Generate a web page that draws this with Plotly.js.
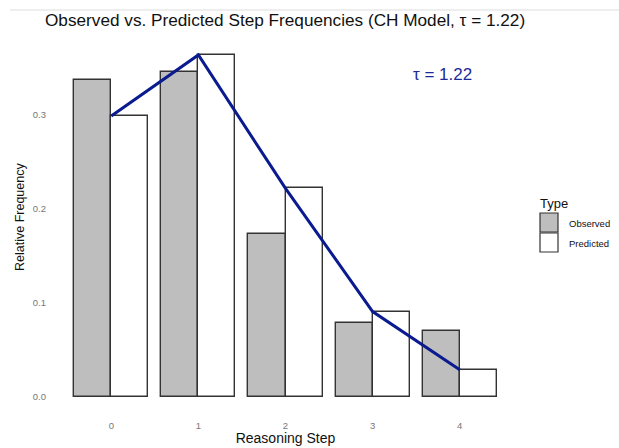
<!DOCTYPE html>
<html><head><meta charset="utf-8">
<script src="https://cdn.plot.ly/plotly-3.0.1.min.js"></script>
<style>body{margin:0;background:#fff}#c{width:619px;height:448px}</style>
</head><body><div id="c"></div>
<script>
const steps = [0, 1, 2, 3, 4];
const stepLabels = ['0', '1', '2', '3', '4'];
const observed = [0.337, 0.346, 0.173, 0.079, 0.070];
const predicted = [0.299, 0.364, 0.222, 0.091, 0.029];
const tau = 1.22;
const typeNames = ['Observed', 'Predicted'];
const typeColors = ['#bebebe', '#ffffff'];

const L = 59, R = 107, T = 38, B = 34, W = 619, H = 448;
const pw = W - L - R, ph = H - T - B;
const px = v => (v - L) / pw;          // page px -> paper x
const py = v => 1 - (v - T) / ph;      // page px -> paper y

const off = 0.2125, bw = 0.425;
const traces = [
  {type:'bar', name:typeNames[0], x: steps.map(s=>s-off), y: observed, width: bw, showlegend:false,
   marker:{color:typeColors[0], line:{color:'#333333', width:1.4}}},
  {type:'bar', name:typeNames[1], x: steps.map(s=>s+off), y: predicted, width: bw, showlegend:false,
   marker:{color:typeColors[1], line:{color:'#333333', width:1.4}}},
  {type:'scatter', mode:'lines', x: steps, y: predicted, showlegend:false,
   line:{color:'#0a1a8f', width:3}}
];
const shapes = [
  {type:'line', xref:'paper', yref:'paper', x0:px(10), x1:px(619), y0:py(10), y1:py(10),
   line:{color:'#dddddd', width:1}}
];
const annotations = [
  {x:3.8, y:0.343, xref:'x', yref:'y', text:'\u03c4 = ' + tau.toFixed(2), showarrow:false,
   font:{size:17, color:'#1a2a9a'}},
  {x:px(20), y:py(217), xref:'paper', yref:'paper', xanchor:'center', yanchor:'middle',
   text:'Relative Frequency', textangle:-90,
   showarrow:false, font:{size:12.5, color:'#111'}},
  {x:px(538), y:py(203), xref:'paper', yref:'paper', xanchor:'left', text:'Type', showarrow:false,
   font:{size:13, color:'#111'}}
];
typeNames.forEach((n, i) => {
  const y0 = 213 + i * 20;
  shapes.push({type:'rect', xref:'paper', yref:'paper', x0:px(540), x1:px(558), y0:py(y0), y1:py(y0+19),
    fillcolor:typeColors[i], line:{color:'#333333', width:1.2}});
  annotations.push({x:px(567), y:py(y0+10), xref:'paper', yref:'paper', xanchor:'left', text:n,
    showarrow:false, font:{size:9.5, color:'#111'}});
});
const layout = {
  width:W, height:H, paper_bgcolor:'#fff', plot_bgcolor:'#fff',
  margin:{l:L, r:R, t:T, b:B},
  barmode:'overlay', bargap:0, showlegend:false,
  font:{family:'Liberation Sans, Arial, sans-serif', color:'#000'},
  title:{text:'Observed vs. Predicted Step Frequencies (CH Model, \u03c4 = 1.22)',
    x:45/W, xanchor:'left', y:1-20/H, yanchor:'middle', font:{size:17.2, color:'#111'}},
  xaxis:{range:[-0.6,4.6], tickvals:steps, ticktext:stepLabels, showgrid:false, zeroline:false,
    showline:false, ticks:'', tickfont:{size:9.5, color:'#777'}, ticklabelstandoff:4,
    title:{text:'Reasoning Step', font:{size:14, color:'#111'}, standoff:0}},
  yaxis:{range:[-0.018,0.382], tickvals:[0,0.1,0.2,0.3], ticktext:['0.0','0.1','0.2','0.3'],
    showgrid:false, zeroline:false, showline:false, ticks:'', tickfont:{size:9.5, color:'#777'},
    ticklabelstandoff:12},
  shapes: shapes,
  annotations: annotations
};
Plotly.newPlot('c', traces, layout, {displayModeBar:false});
</script></body></html>
